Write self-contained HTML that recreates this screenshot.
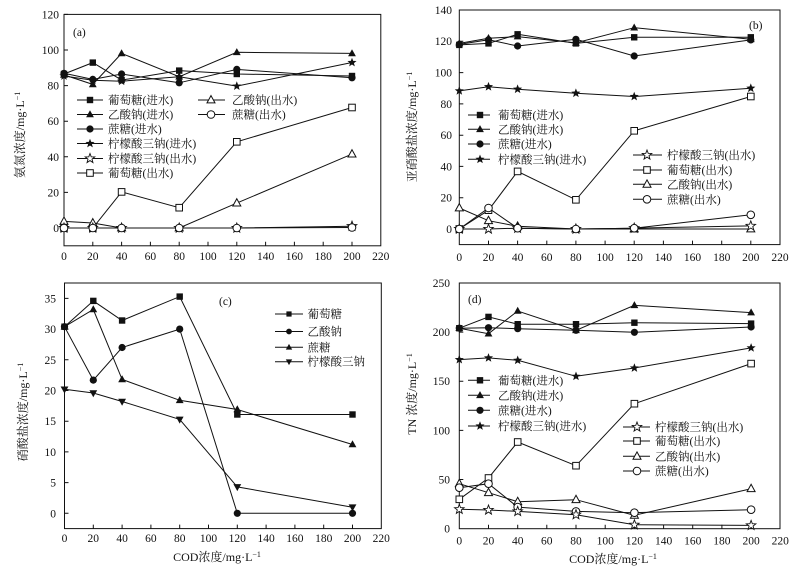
<!DOCTYPE html>
<html><head><meta charset="utf-8">
<style>
html,body{margin:0;padding:0;background:#fff;}
svg{display:block;}
text{font-family:"Liberation Serif","Noto Serif CJK SC",serif;fill:#111;}
.t{font-size:11.5px;}
.lg{font-size:11.5px;}
.ax{font-size:12px;}
</style></head>
<body>
<svg width="808" height="567" viewBox="0 0 808 567" xmlns="http://www.w3.org/2000/svg">
<defs>
<rect id="fs" x="-3.2" y="-3.2" width="6.4" height="6.4" fill="#111"/>
<polygon id="ft" points="0,-4.2 3.9,2.8 -3.9,2.8" fill="#111"/>
<polygon id="fd" points="0,4.2 3.9,-2.8 -3.9,-2.8" fill="#111"/>
<circle id="fc" r="3.6" fill="#111"/>
<polygon id="fst" points="0,-4.8 1.2,-1.65 4.56,-1.48 1.93,0.63 2.82,3.88 0,2.03 -2.82,3.88 -1.93,0.63 -4.56,-1.48 -1.2,-1.65" fill="#111"/>
<rect id="os" x="-3.3" y="-3.3" width="6.6" height="6.6" fill="#fff" stroke="#111" stroke-width="1"/>
<polygon id="ot" points="0,-4.4 4,2.9 -4,2.9" fill="#fff" stroke="#111" stroke-width="1"/>
<circle id="oc" r="3.8" fill="#fff" stroke="#111" stroke-width="1"/>
<polygon id="ost" points="0,-5 1.23,-1.7 4.76,-1.55 2,0.65 2.94,4.05 0,2.1 -2.94,4.05 -2,0.65 -4.76,-1.55 -1.23,-1.7" fill="#fff" stroke="#111" stroke-width="0.9"/>
<rect id="fs2" x="-2.6" y="-2.6" width="5.2" height="5.2" fill="#111"/>
<polygon id="ft2" points="0,-3.4 3.2,2.3 -3.2,2.3" fill="#111"/>
<polygon id="fd2" points="0,3.4 3.2,-2.3 -3.2,-2.3" fill="#111"/>
<circle id="fc2" r="2.9" fill="#111"/>
</defs>

<g fill="none" stroke="#111" stroke-width="1">
<!-- ===== Panel A frame ===== -->
<rect x="64" y="14.4" width="316.8" height="231.4"/>
<path d="M64 228h4M64 192.4h4M64 156.8h4M64 121.2h4M64 85.6h4M64 50h4M64 14.4h4"/>
<path d="M92.8 245.8v-4M121.6 245.8v-4M150.4 245.8v-4M179.2 245.8v-4M208 245.8v-4M236.8 245.8v-4M265.6 245.8v-4M294.4 245.8v-4M323.2 245.8v-4M352 245.8v-4"/>
<!-- ===== Panel B frame ===== -->
<rect x="459.3" y="10" width="320.7" height="234.6"/>
<path d="M459.3 229h4M459.3 197.7h4M459.3 166.4h4M459.3 135.2h4M459.3 103.9h4M459.3 72.6h4M459.3 41.2h4M459.3 10h4"/>
<path d="M488.5 244.6v-4M517.6 244.6v-4M546.8 244.6v-4M575.9 244.6v-4M605.1 244.6v-4M634.2 244.6v-4M663.4 244.6v-4M692.5 244.6v-4M721.7 244.6v-4M750.8 244.6v-4"/>
<!-- ===== Panel C frame ===== -->
<rect x="64.5" y="283" width="316.8" height="245.6"/>
<path d="M64.5 513.3h4M64.5 482.6h4M64.5 451.9h4M64.5 421.2h4M64.5 390.5h4M64.5 359.8h4M64.5 329.1h4M64.5 298.4h4"/>
<path d="M93.3 528.6v-4M122.1 528.6v-4M150.9 528.6v-4M179.7 528.6v-4M208.5 528.6v-4M237.3 528.6v-4M266.1 528.6v-4M294.9 528.6v-4M323.7 528.6v-4M352.5 528.6v-4"/>
<!-- ===== Panel D frame ===== -->
<rect x="459.3" y="283" width="320.7" height="245.7"/>
<path d="M459.3 479.55h4M459.3 430.4h4M459.3 381.25h4M459.3 332.1h4M459.3 282.95h4"/>
<path d="M488.5 528.7v-4M517.7 528.7v-4M546.8 528.7v-4M576 528.7v-4M605.2 528.7v-4M634.4 528.7v-4M663.6 528.7v-4M692.7 528.7v-4M721.9 528.7v-4M751.1 528.7v-4"/>

<!-- ===== Panel A lines ===== -->
<polyline points="64,228 92.8,228 121.6,191.9 179.2,207.7 236.8,141.8 352,107.5"/>
<polyline points="64,221.4 92.8,223 121.6,228 179.2,228 236.8,203.1 352,154.1"/>
<polyline points="64,228 92.8,228 121.6,228 179.2,228 236.8,228 352,227.5"/>
<polyline points="64,228 92.8,228 121.6,228 179.2,228 236.8,228 352,226.2"/>
<polyline points="64,74 92.8,62.6 121.6,80.1 179.2,70.6 236.8,74 352,76"/>
<polyline points="64,74.9 92.8,84.4 121.6,53.4 179.2,76.7 236.8,52.3 352,53.4"/>
<polyline points="64,73.3 92.8,79.4 121.6,74 179.2,82.8 236.8,69.4 352,77.8"/>
<polyline points="64,76 92.8,80.3 121.6,81.2 179.2,76.7 236.8,86.1 352,62.5"/>
<!-- legend A lines -->
<path d="M77 100h26M77 114.5h26M77 129h26M77 143.5h26M77 158.5h26M77 173h26M198 100h27M198 114.5h27"/>

<!-- ===== Panel B lines ===== -->
<polyline points="459.3,44.9 488.5,43.4 517.6,34.3 575.9,43.4 634.2,37.3 750.8,37.3"/>
<polyline points="459.3,43.4 488.5,38.2 517.6,36.6 575.9,42.9 634.2,27.7 750.8,39.3"/>
<polyline points="459.3,44.4 488.5,39.8 517.6,46 575.9,39.3 634.2,56 750.8,39.9"/>
<polyline points="459.3,90.9 488.5,86.7 517.6,89.2 575.9,93.2 634.2,96.5 750.8,88.2"/>
<polyline points="459.3,229 488.5,229 517.6,228.2 575.9,229 634.2,228.2 750.8,225.9"/>
<polyline points="459.3,229 488.5,210.2 517.6,171.4 575.9,199.8 634.2,130.8 750.8,96.5"/>
<polyline points="459.3,208 488.5,220.7 517.6,226.3 575.9,229 634.2,229 750.8,229"/>
<polyline points="459.3,229 488.5,208 517.6,228.2 575.9,229 634.2,228.2 750.8,214.8"/>
<path d="M468 115h22M468 129.3h22M468 144h22M468 159.3h22M633 155h29M633 170h29M633 184.3h29M633 199.3h29"/>

<!-- ===== Panel C lines ===== -->
<polyline points="64.5,326.7 93.3,300.9 122.1,320.5 179.7,296.6 237.3,414.5 352.5,414.5"/>
<polyline points="64.5,326.7 93.3,380.1 122.1,347.5 179.7,329.1 237.3,513.3 352.5,513.3"/>
<polyline points="64.5,326.7 93.3,309.5 122.1,379.4 179.7,400.3 237.3,409.5 352.5,444.5"/>
<polyline points="64.5,389.3 93.3,393 122.1,401.5 179.7,419.4 237.3,486.9 352.5,507.2"/>
<path d="M275 314h28M275 331.5h28M275 347.3h28M275 361.7h28"/>

<!-- ===== Panel D lines ===== -->
<polyline points="459.3,328.2 488.5,316.9 517.7,324.2 576,324.2 634.4,322.7 751.1,323.6"/>
<polyline points="459.3,328.2 488.5,333.7 517.7,311 576,330.3 634.4,305.3 751.1,312.6"/>
<polyline points="459.3,328.2 488.5,327.7 517.7,328.7 576,330.3 634.4,332.3 751.1,327"/>
<polyline points="459.3,359.6 488.5,357.9 517.7,360.3 576,376.3 634.4,368 751.1,347.9"/>
<polyline points="459.3,499.3 488.5,478 517.7,442 576,465.7 634.4,403.7 751.1,363.6"/>
<polyline points="459.3,483.7 488.5,492.7 517.7,501.7 576,499.7 634.4,515.3 751.1,488.7"/>
<polyline points="459.3,487.7 488.5,483.7 517.7,507.1 576,511.4 634.4,512.7 751.1,509.7"/>
<polyline points="459.3,509.3 488.5,510 517.7,511.4 576,514.7 634.4,524.8 751.1,525.4"/>
<path d="M468 380.3h22M468 395.3h22M468 410.3h22M468 426h22M623 427h27M623 441h27M623 456.3h27M623 471h27"/>
</g>

<!-- ===== Panel A markers ===== -->
<g>
<use href="#os" x="64" y="228"/><use href="#os" x="92.8" y="228"/><use href="#os" x="121.6" y="191.9"/><use href="#os" x="179.2" y="207.7"/><use href="#os" x="236.8" y="141.8"/><use href="#os" x="352" y="107.5"/>
<use href="#ot" x="64" y="221.4"/><use href="#ot" x="92.8" y="223"/><use href="#ot" x="121.6" y="228"/><use href="#ot" x="179.2" y="228"/><use href="#ot" x="236.8" y="203.1"/><use href="#ot" x="352" y="154.1"/>
<use href="#ost" x="64" y="228"/><use href="#ost" x="92.8" y="228"/><use href="#ost" x="121.6" y="228"/><use href="#ost" x="179.2" y="228"/><use href="#ost" x="236.8" y="228"/><use href="#ost" x="352" y="226.2"/>
<use href="#oc" x="64" y="228"/><use href="#oc" x="92.8" y="228"/><use href="#oc" x="121.6" y="228"/><use href="#oc" x="179.2" y="228"/><use href="#oc" x="236.8" y="228"/><use href="#oc" x="352" y="227.5"/>
<use href="#fs" x="64" y="74"/><use href="#fs" x="92.8" y="62.6"/><use href="#fs" x="121.6" y="80.1"/><use href="#fs" x="179.2" y="70.6"/><use href="#fs" x="236.8" y="74"/><use href="#fs" x="352" y="76"/>
<use href="#ft" x="64" y="74.9"/><use href="#ft" x="92.8" y="84.4"/><use href="#ft" x="121.6" y="53.4"/><use href="#ft" x="179.2" y="76.7"/><use href="#ft" x="236.8" y="52.3"/><use href="#ft" x="352" y="53.4"/>
<use href="#fc" x="64" y="73.3"/><use href="#fc" x="92.8" y="79.4"/><use href="#fc" x="121.6" y="74"/><use href="#fc" x="179.2" y="82.8"/><use href="#fc" x="236.8" y="69.4"/><use href="#fc" x="352" y="77.8"/>
<use href="#fst" x="64" y="76"/><use href="#fst" x="92.8" y="80.3"/><use href="#fst" x="121.6" y="81.2"/><use href="#fst" x="179.2" y="76.7"/><use href="#fst" x="236.8" y="86.1"/><use href="#fst" x="352" y="62.5"/>
<use href="#fs" x="90" y="100"/><use href="#ft" x="90" y="114.5"/><use href="#fc" x="90" y="129"/><use href="#fst" x="90" y="143.5"/><use href="#ost" x="90" y="158.5"/><use href="#os" x="90" y="173"/>
<use href="#ot" x="211" y="100"/><use href="#oc" x="211" y="114.5"/>
</g>

<!-- ===== Panel B markers ===== -->
<g>
<use href="#fs" x="459.3" y="44.9"/><use href="#fs" x="488.5" y="43.4"/><use href="#fs" x="517.6" y="34.3"/><use href="#fs" x="575.9" y="43.4"/><use href="#fs" x="634.2" y="37.3"/><use href="#fs" x="750.8" y="37.3"/>
<use href="#ft" x="459.3" y="43.4"/><use href="#ft" x="488.5" y="38.2"/><use href="#ft" x="517.6" y="36.6"/><use href="#ft" x="575.9" y="42.9"/><use href="#ft" x="634.2" y="27.7"/><use href="#ft" x="750.8" y="39.3"/>
<use href="#fc" x="459.3" y="44.4"/><use href="#fc" x="488.5" y="39.8"/><use href="#fc" x="517.6" y="46"/><use href="#fc" x="575.9" y="39.3"/><use href="#fc" x="634.2" y="56"/><use href="#fc" x="750.8" y="39.9"/>
<use href="#fst" x="459.3" y="90.9"/><use href="#fst" x="488.5" y="86.7"/><use href="#fst" x="517.6" y="89.2"/><use href="#fst" x="575.9" y="93.2"/><use href="#fst" x="634.2" y="96.5"/><use href="#fst" x="750.8" y="88.2"/>
<use href="#os" x="459.3" y="229"/><use href="#os" x="488.5" y="210.2"/><use href="#os" x="517.6" y="171.4"/><use href="#os" x="575.9" y="199.8"/><use href="#os" x="634.2" y="130.8"/><use href="#os" x="750.8" y="96.5"/>
<use href="#ot" x="459.3" y="208"/><use href="#ot" x="488.5" y="220.7"/><use href="#ot" x="517.6" y="226.3"/><use href="#ot" x="575.9" y="229"/><use href="#ot" x="634.2" y="229"/><use href="#ot" x="750.8" y="229"/>
<use href="#ost" x="459.3" y="229"/><use href="#ost" x="488.5" y="229"/><use href="#ost" x="517.6" y="228.2"/><use href="#ost" x="575.9" y="229"/><use href="#ost" x="634.2" y="228.2"/><use href="#ost" x="750.8" y="225.9"/>
<use href="#oc" x="459.3" y="229"/><use href="#oc" x="488.5" y="208"/><use href="#oc" x="517.6" y="228.2"/><use href="#oc" x="575.9" y="229"/><use href="#oc" x="634.2" y="228.2"/><use href="#oc" x="750.8" y="214.8"/>
<use href="#fs" x="480" y="115"/><use href="#ft" x="480" y="129.3"/><use href="#fc" x="480" y="144"/><use href="#fst" x="480" y="159.3"/>
<use href="#ost" x="647" y="155"/><use href="#os" x="647" y="170"/><use href="#ot" x="647" y="184.3"/><use href="#oc" x="647" y="199.3"/>
</g>

<!-- ===== Panel C markers ===== -->
<g>
<use href="#fs" x="64.5" y="326.7"/><use href="#fs" x="93.3" y="300.9"/><use href="#fs" x="122.1" y="320.5"/><use href="#fs" x="179.7" y="296.6"/><use href="#fs" x="237.3" y="414.5"/><use href="#fs" x="352.5" y="414.5"/>
<use href="#fc" x="64.5" y="326.7"/><use href="#fc" x="93.3" y="380.1"/><use href="#fc" x="122.1" y="347.5"/><use href="#fc" x="179.7" y="329.1"/><use href="#fc" x="237.3" y="513.3"/><use href="#fc" x="352.5" y="513.3"/>
<use href="#ft" x="64.5" y="326.7"/><use href="#ft" x="93.3" y="309.5"/><use href="#ft" x="122.1" y="379.4"/><use href="#ft" x="179.7" y="400.3"/><use href="#ft" x="237.3" y="409.5"/><use href="#ft" x="352.5" y="444.5"/>
<use href="#fd" x="64.5" y="389.3"/><use href="#fd" x="93.3" y="393"/><use href="#fd" x="122.1" y="401.5"/><use href="#fd" x="179.7" y="419.4"/><use href="#fd" x="237.3" y="486.9"/><use href="#fd" x="352.5" y="507.2"/>
<use href="#fs2" x="289" y="314"/><use href="#fc2" x="289" y="331.5"/><use href="#ft2" x="289" y="347.3"/><use href="#fd2" x="289" y="361.7"/>
</g>

<!-- ===== Panel D markers ===== -->
<g>
<use href="#fs" x="459.3" y="328.2"/><use href="#fs" x="488.5" y="316.9"/><use href="#fs" x="517.7" y="324.2"/><use href="#fs" x="576" y="324.2"/><use href="#fs" x="634.4" y="322.7"/><use href="#fs" x="751.1" y="323.6"/>
<use href="#ft" x="459.3" y="328.2"/><use href="#ft" x="488.5" y="333.7"/><use href="#ft" x="517.7" y="311"/><use href="#ft" x="576" y="330.3"/><use href="#ft" x="634.4" y="305.3"/><use href="#ft" x="751.1" y="312.6"/>
<use href="#fc" x="459.3" y="328.2"/><use href="#fc" x="488.5" y="327.7"/><use href="#fc" x="517.7" y="328.7"/><use href="#fc" x="576" y="330.3"/><use href="#fc" x="634.4" y="332.3"/><use href="#fc" x="751.1" y="327"/>
<use href="#fst" x="459.3" y="359.6"/><use href="#fst" x="488.5" y="357.9"/><use href="#fst" x="517.7" y="360.3"/><use href="#fst" x="576" y="376.3"/><use href="#fst" x="634.4" y="368"/><use href="#fst" x="751.1" y="347.9"/>
<use href="#os" x="459.3" y="499.3"/><use href="#os" x="488.5" y="478"/><use href="#os" x="517.7" y="442"/><use href="#os" x="576" y="465.7"/><use href="#os" x="634.4" y="403.7"/><use href="#os" x="751.1" y="363.6"/>
<use href="#ot" x="459.3" y="483.7"/><use href="#ot" x="488.5" y="492.7"/><use href="#ot" x="517.7" y="501.7"/><use href="#ot" x="576" y="499.7"/><use href="#ot" x="634.4" y="515.3"/><use href="#ot" x="751.1" y="488.7"/>
<use href="#oc" x="459.3" y="487.7"/><use href="#oc" x="488.5" y="483.7"/><use href="#oc" x="517.7" y="507.1"/><use href="#oc" x="576" y="511.4"/><use href="#oc" x="634.4" y="512.7"/><use href="#oc" x="751.1" y="509.7"/>
<use href="#ost" x="459.3" y="509.3"/><use href="#ost" x="488.5" y="510"/><use href="#ost" x="517.7" y="511.4"/><use href="#ost" x="576" y="514.7"/><use href="#ost" x="634.4" y="524.8"/><use href="#ost" x="751.1" y="525.4"/>
<use href="#fs" x="480" y="380.3"/><use href="#ft" x="480" y="395.3"/><use href="#fc" x="480" y="410.3"/><use href="#fst" x="480" y="426"/>
<use href="#ost" x="637" y="427"/><use href="#os" x="637" y="441"/><use href="#ot" x="637" y="456.3"/><use href="#oc" x="637" y="471"/>
</g>

<!-- ===== Tick labels ===== -->
<g class="t" text-anchor="end">
<text x="59" y="232">0</text><text x="59" y="196.4">20</text><text x="59" y="160.8">40</text><text x="59" y="125.2">60</text><text x="59" y="89.6">80</text><text x="59" y="54">100</text><text x="59" y="18.4">120</text>
<text x="452" y="233">0</text><text x="452" y="201.7">20</text><text x="452" y="170.4">40</text><text x="452" y="139.2">60</text><text x="452" y="107.9">80</text><text x="452" y="76.6">100</text><text x="452" y="45.2">120</text><text x="452" y="14">140</text>
<text x="56" y="517.3">0</text><text x="56" y="486.6">5</text><text x="56" y="455.9">10</text><text x="56" y="425.2">15</text><text x="56" y="394.5">20</text><text x="56" y="363.8">25</text><text x="56" y="333.1">30</text><text x="56" y="302.4">35</text>
<text x="450" y="532.7">0</text><text x="450" y="483.5">50</text><text x="450" y="434.4">100</text><text x="450" y="385.2">150</text><text x="450" y="336.1">200</text><text x="450" y="287">250</text>
</g>
<g class="t" text-anchor="middle">
<text x="64" y="260">0</text><text x="92.8" y="260">20</text><text x="121.6" y="260">40</text><text x="150.4" y="260">60</text><text x="179.2" y="260">80</text><text x="208" y="260">100</text><text x="236.8" y="260">120</text><text x="265.6" y="260">140</text><text x="294.4" y="260">160</text><text x="323.2" y="260">180</text><text x="352" y="260">200</text><text x="380.8" y="260">220</text>
<text x="459.3" y="261">0</text><text x="488.5" y="261">20</text><text x="517.6" y="261">40</text><text x="546.8" y="261">60</text><text x="575.9" y="261">80</text><text x="605.1" y="261">100</text><text x="634.2" y="261">120</text><text x="663.4" y="261">140</text><text x="692.5" y="261">160</text><text x="721.7" y="261">180</text><text x="750.8" y="261">200</text><text x="780" y="261">220</text>
<text x="64.5" y="542">0</text><text x="93.3" y="542">20</text><text x="122.1" y="542">40</text><text x="150.9" y="542">60</text><text x="179.7" y="542">80</text><text x="208.5" y="542">100</text><text x="237.3" y="542">120</text><text x="266.1" y="542">140</text><text x="294.9" y="542">160</text><text x="323.7" y="542">180</text><text x="352.5" y="542">200</text><text x="381.3" y="542">220</text>
<text x="459.3" y="544.5">0</text><text x="488.5" y="544.5">20</text><text x="517.7" y="544.5">40</text><text x="546.8" y="544.5">60</text><text x="576" y="544.5">80</text><text x="605.2" y="544.5">100</text><text x="634.4" y="544.5">120</text><text x="663.6" y="544.5">140</text><text x="692.7" y="544.5">160</text><text x="721.9" y="544.5">180</text><text x="751.1" y="544.5">200</text><text x="780.3" y="544.5">220</text>
</g>

<!-- ===== Panel labels ===== -->
<g class="t">
<text x="73" y="36">(a)</text>
<text x="749" y="29">(b)</text>
<text x="219" y="305">(c)</text>
<text x="468" y="303">(d)</text>
</g>

<!-- ===== Legends ===== -->
<g class="lg">
<text x="108" y="104">葡萄糖(进水)</text>
<text x="108" y="118.5">乙酸钠(进水)</text>
<text x="108" y="133">蔗糖(进水)</text>
<text x="108" y="147.5">柠檬酸三钠(进水)</text>
<text x="108" y="162.5">柠檬酸三钠(出水)</text>
<text x="108" y="177">葡萄糖(出水)</text>
<text x="232" y="104">乙酸钠(出水)</text>
<text x="232" y="118.5">蔗糖(出水)</text>

<text x="498" y="119">葡萄糖(进水)</text>
<text x="498" y="133.3">乙酸钠(进水)</text>
<text x="498" y="148">蔗糖(进水)</text>
<text x="498" y="163.3">柠檬酸三钠(进水)</text>
<text x="667" y="159">柠檬酸三钠(出水)</text>
<text x="667" y="174">葡萄糖(出水)</text>
<text x="667" y="188.3">乙酸钠(出水)</text>
<text x="667" y="203.3">蔗糖(出水)</text>

<text x="307.5" y="318">葡萄糖</text>
<text x="307.5" y="335.5">乙酸钠</text>
<text x="307.5" y="351.3">蔗糖</text>
<text x="307.5" y="365.7">柠檬酸三钠</text>

<text x="498" y="384.3">葡萄糖(进水)</text>
<text x="498" y="399.3">乙酸钠(进水)</text>
<text x="498" y="414.3">蔗糖(进水)</text>
<text x="498" y="430">柠檬酸三钠(进水)</text>
<text x="655" y="431">柠檬酸三钠(出水)</text>
<text x="655" y="445">葡萄糖(出水)</text>
<text x="655" y="460.3">乙酸钠(出水)</text>
<text x="655" y="475">蔗糖(出水)</text>
</g>

<!-- ===== Axis titles ===== -->
<g class="ax" text-anchor="middle">
<text transform="translate(24,135) rotate(-90)">氨氮浓度/mg·L<tspan dy="-4" font-size="8">−1</tspan></text>
<text transform="translate(416,127) rotate(-90)">亚硝酸盐浓度/mg·L<tspan dy="-4" font-size="8">−1</tspan></text>
<text transform="translate(27,412) rotate(-90)">硝酸盐浓度/mg·L<tspan dy="-4" font-size="8">−1</tspan></text>
<text transform="translate(416,394) rotate(-90)">TN 浓度/mg·L<tspan dy="-4" font-size="8">−1</tspan></text>
<text x="217" y="561">COD浓度/mg·L<tspan dy="-4" font-size="8">−1</tspan></text>
<text x="613" y="563">COD浓度/mg·L<tspan dy="-4" font-size="8">−1</tspan></text>
</g>
</svg>
</body></html>
